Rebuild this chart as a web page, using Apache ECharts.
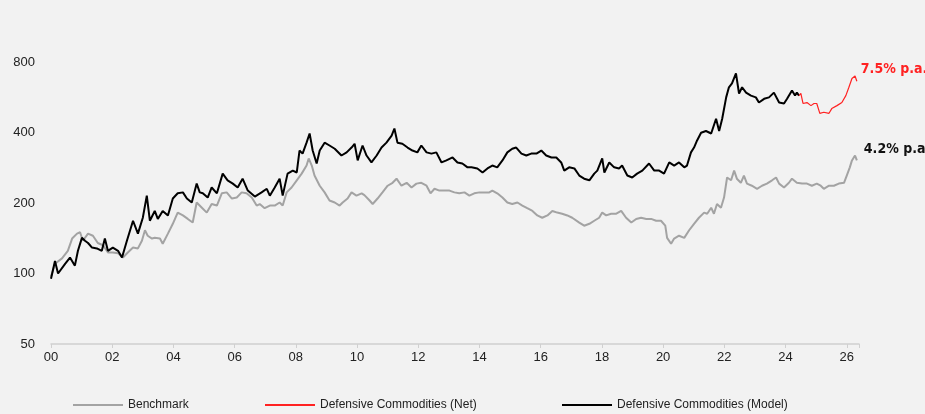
<!DOCTYPE html>
<html>
<head>
<meta charset="utf-8">
<script src="https://cdn.jsdelivr.net/npm/echarts@6/dist/echarts.min.js"></script>
<style>
  html, body { margin: 0; padding: 0; background: #f2f2f2; }
  #chart { width: 925px; height: 414px; }
</style>
</head>
<body>
<div id="chart"></div>
<script>
// years since 2000, index level (log scale)
var benchmark = [
  [0.00, 97], [0.13, 110], [0.36, 116], [0.55, 125], [0.69, 141], [0.85, 148], [0.95, 150], [1.04, 138],
  [1.21, 148], [1.37, 145], [1.53, 135], [1.70, 132], [1.86, 123], [2.02, 123], [2.19, 122], [2.35, 117],
  [2.51, 123], [2.68, 129], [2.84, 128], [2.97, 138], [3.07, 153], [3.16, 145], [3.30, 141], [3.39, 142],
  [3.56, 141], [3.65, 134], [3.82, 148], [3.98, 163], [4.14, 182], [4.31, 177], [4.47, 171], [4.63, 165],
  [4.76, 201], [4.93, 191], [5.09, 182], [5.25, 198], [5.42, 195], [5.58, 220], [5.74, 222], [5.91, 209],
  [6.07, 211], [6.23, 222], [6.39, 220], [6.56, 211], [6.72, 195], [6.82, 198], [6.98, 190], [7.15, 195],
  [7.31, 195], [7.47, 201], [7.57, 195], [7.70, 222], [7.86, 233], [8.03, 250], [8.19, 267], [8.35, 289],
  [8.42, 310], [8.52, 289], [8.61, 262], [8.78, 237], [8.94, 222], [9.10, 205], [9.27, 201], [9.43, 195],
  [9.53, 201], [9.69, 209], [9.82, 222], [9.98, 215], [10.15, 220], [10.24, 216], [10.41, 205], [10.51, 198],
  [10.67, 209], [10.83, 222], [11.00, 237], [11.16, 244], [11.29, 254], [11.45, 237], [11.62, 244], [11.78, 233],
  [11.94, 242], [12.10, 244], [12.27, 237], [12.40, 220], [12.53, 230], [12.69, 226], [12.85, 226], [13.02, 226],
  [13.18, 222], [13.34, 220], [13.51, 222], [13.67, 215], [13.83, 220], [14.00, 222], [14.16, 222], [14.32, 222],
  [14.42, 226], [14.58, 220], [14.75, 211], [14.91, 201], [15.07, 198], [15.24, 201], [15.40, 195], [15.56, 190],
  [15.73, 185], [15.89, 177], [16.05, 173], [16.22, 177], [16.38, 185], [16.54, 182], [16.70, 180], [16.87, 177],
  [17.03, 173], [17.26, 165], [17.42, 160], [17.59, 163], [17.75, 168], [17.91, 173], [18.01, 182], [18.14, 177],
  [18.30, 180], [18.47, 180], [18.63, 185], [18.79, 173], [18.96, 165], [19.12, 171], [19.28, 173], [19.45, 171],
  [19.61, 171], [19.77, 168], [19.93, 168], [20.07, 160], [20.13, 142], [20.26, 134], [20.36, 141], [20.52, 145],
  [20.69, 142], [20.85, 153], [21.01, 163], [21.17, 173], [21.34, 182], [21.44, 180], [21.57, 191], [21.66, 180],
  [21.76, 198], [21.89, 191], [21.99, 211], [22.09, 257], [22.22, 250], [22.32, 275], [22.41, 254], [22.54, 244],
  [22.64, 262], [22.74, 242], [22.90, 237], [23.07, 230], [23.23, 237], [23.39, 242], [23.56, 250], [23.69, 257],
  [23.79, 242], [23.95, 233], [24.11, 244], [24.21, 254], [24.37, 244], [24.54, 242], [24.70, 242], [24.86, 237],
  [25.02, 242], [25.15, 237], [25.25, 230], [25.42, 237], [25.58, 237], [25.74, 242], [25.91, 244], [26.00, 262],
  [26.10, 284], [26.17, 304], [26.27, 319], [26.33, 304]
];

var model = [
  [0.00, 95], [0.13, 113], [0.23, 100], [0.46, 110], [0.62, 117], [0.78, 108], [0.88, 125], [1.01, 142],
  [1.11, 138], [1.21, 135], [1.34, 129], [1.50, 128], [1.66, 125], [1.76, 141], [1.86, 125], [2.02, 129],
  [2.19, 125], [2.32, 117], [2.48, 138], [2.68, 168], [2.84, 148], [3.00, 173], [3.13, 215], [3.23, 168],
  [3.39, 185], [3.49, 171], [3.65, 185], [3.82, 177], [3.98, 209], [4.14, 220], [4.31, 222], [4.44, 209],
  [4.60, 201], [4.76, 242], [4.86, 222], [4.96, 220], [5.12, 211], [5.25, 233], [5.42, 220], [5.61, 267],
  [5.77, 250], [5.94, 242], [6.10, 233], [6.26, 254], [6.43, 226], [6.66, 213], [6.88, 222], [7.05, 230],
  [7.15, 215], [7.31, 233], [7.47, 254], [7.57, 215], [7.73, 267], [7.90, 275], [8.03, 270], [8.12, 335],
  [8.22, 325], [8.35, 362], [8.45, 396], [8.55, 335], [8.68, 295], [8.78, 335], [8.94, 362], [9.10, 352],
  [9.27, 341], [9.49, 319], [9.66, 329], [9.82, 345], [9.92, 358], [10.02, 304], [10.18, 352], [10.31, 319],
  [10.47, 298], [10.64, 319], [10.80, 345], [10.96, 362], [11.13, 388], [11.22, 416], [11.32, 362], [11.48, 358],
  [11.65, 345], [11.81, 335], [11.97, 329], [12.10, 352], [12.27, 329], [12.43, 325], [12.59, 329], [12.76, 298],
  [12.92, 304], [13.12, 313], [13.28, 298], [13.44, 295], [13.61, 284], [13.74, 284], [13.93, 281], [14.10, 270],
  [14.26, 281], [14.42, 289], [14.58, 284], [14.75, 304], [14.91, 329], [15.07, 341], [15.20, 345], [15.37, 325],
  [15.53, 319], [15.69, 325], [15.86, 325], [16.02, 335], [16.18, 319], [16.35, 313], [16.51, 313], [16.67, 298],
  [16.77, 275], [16.93, 284], [17.10, 281], [17.26, 262], [17.42, 254], [17.59, 250], [17.75, 267], [17.85, 275],
  [18.01, 310], [18.08, 270], [18.24, 298], [18.40, 284], [18.56, 281], [18.66, 289], [18.83, 262], [18.99, 257],
  [19.15, 267], [19.32, 275], [19.54, 295], [19.71, 275], [19.87, 275], [20.03, 267], [20.20, 298], [20.36, 289],
  [20.52, 298], [20.69, 284], [20.78, 289], [20.91, 329], [21.01, 345], [21.11, 370], [21.24, 399], [21.40, 406],
  [21.57, 396], [21.73, 458], [21.83, 406], [21.93, 458], [22.06, 565], [22.15, 624], [22.25, 648], [22.38, 715],
  [22.48, 587], [22.58, 624], [22.71, 592], [22.87, 575], [23.03, 565], [23.13, 537], [23.30, 557], [23.46, 565],
  [23.62, 592], [23.79, 537], [23.95, 532], [24.05, 557], [24.21, 605], [24.31, 575], [24.37, 592], [24.44, 575]
];

var net = [
  [24.44, 575], [24.50, 587], [24.57, 532], [24.70, 537], [24.83, 521], [24.93, 532], [25.02, 532], [25.12, 483],
  [25.25, 488], [25.42, 483], [25.51, 506], [25.68, 521], [25.84, 537], [25.97, 575], [26.07, 624], [26.17, 680],
  [26.27, 697], [26.33, 662]
];

var yTicks = [50, 100, 200, 400, 800];
var netLabel = '7.5% p.a.';
var benchLabel = '4.2% p.a';

var labelFont = "'Liberation Sans Narrow', 'DejaVu Sans Condensed', sans-serif";

var chart = echarts.init(document.getElementById('chart'));
chart.setOption({
  animation: false,
  backgroundColor: '#f2f2f2',
  textStyle: { fontFamily: "'Liberation Sans', Arial, sans-serif" },
  grid: { left: 51, right: 66, top: 62, bottom: 70 },
  legend: [
    { data: ['Benchmark'], left: 68, top: 394 },
    { data: ['Defensive Commodities (Net)'], left: 260, top: 394 },
    { data: ['Defensive Commodities (Model)'], left: 557, top: 394 }
  ].map(function (l) {
    l.icon = 'rect';
    l.itemWidth = 50;
    l.itemHeight = 2;
    l.textStyle = { fontSize: 12, color: '#222' };
    return l;
  }),
  xAxis: {
    type: 'value',
    min: 0,
    max: 26.4,
    interval: 2,
    axisLine: { lineStyle: { color: '#d0d0d0', width: 1.5 } },
    axisTick: { show: true, length: 4, lineStyle: { color: '#d0d0d0' } },
    axisLabel: {
      color: '#222', fontSize: 13, margin: 7,
      formatter: function (v) {
        if (!Number.isInteger(v)) return '';
        return (v < 10 ? '0' : '') + v;
      }
    },
    splitLine: { show: false }
  },
  yAxis: {
    type: 'log',
    logBase: 2,
    min: 50,
    max: 800,
    axisLine: { show: false },
    axisTick: { show: false },
    axisLabel: { color: '#222', fontSize: 13, margin: 16, customValues: yTicks },
    splitLine: { show: false }
  },
  series: [
    {
      name: 'Benchmark', type: 'line', data: benchmark, showSymbol: false,
      lineStyle: { color: '#a3a3a3', width: 2 }, itemStyle: { color: '#a3a3a3' },
      endLabel: {
        show: true, formatter: benchLabel, color: '#111', fontWeight: 'bold', fontSize: 14,
        fontFamily: labelFont, distance: 7, offset: [0, -11]
      }
    },
    {
      name: 'Defensive Commodities (Model)', type: 'line', data: model, showSymbol: false,
      lineStyle: { color: '#000', width: 2 }, itemStyle: { color: '#000' }
    },
    {
      name: 'Defensive Commodities (Net)', type: 'line', data: net, showSymbol: false,
      lineStyle: { color: '#f22', width: 1.2 }, itemStyle: { color: '#f22' },
      endLabel: {
        show: true, formatter: netLabel, color: '#f22', fontWeight: 'bold', fontSize: 14,
        fontFamily: labelFont, distance: 4, offset: [0, -12]
      }
    }
  ]
});
</script>
</body>
</html>
